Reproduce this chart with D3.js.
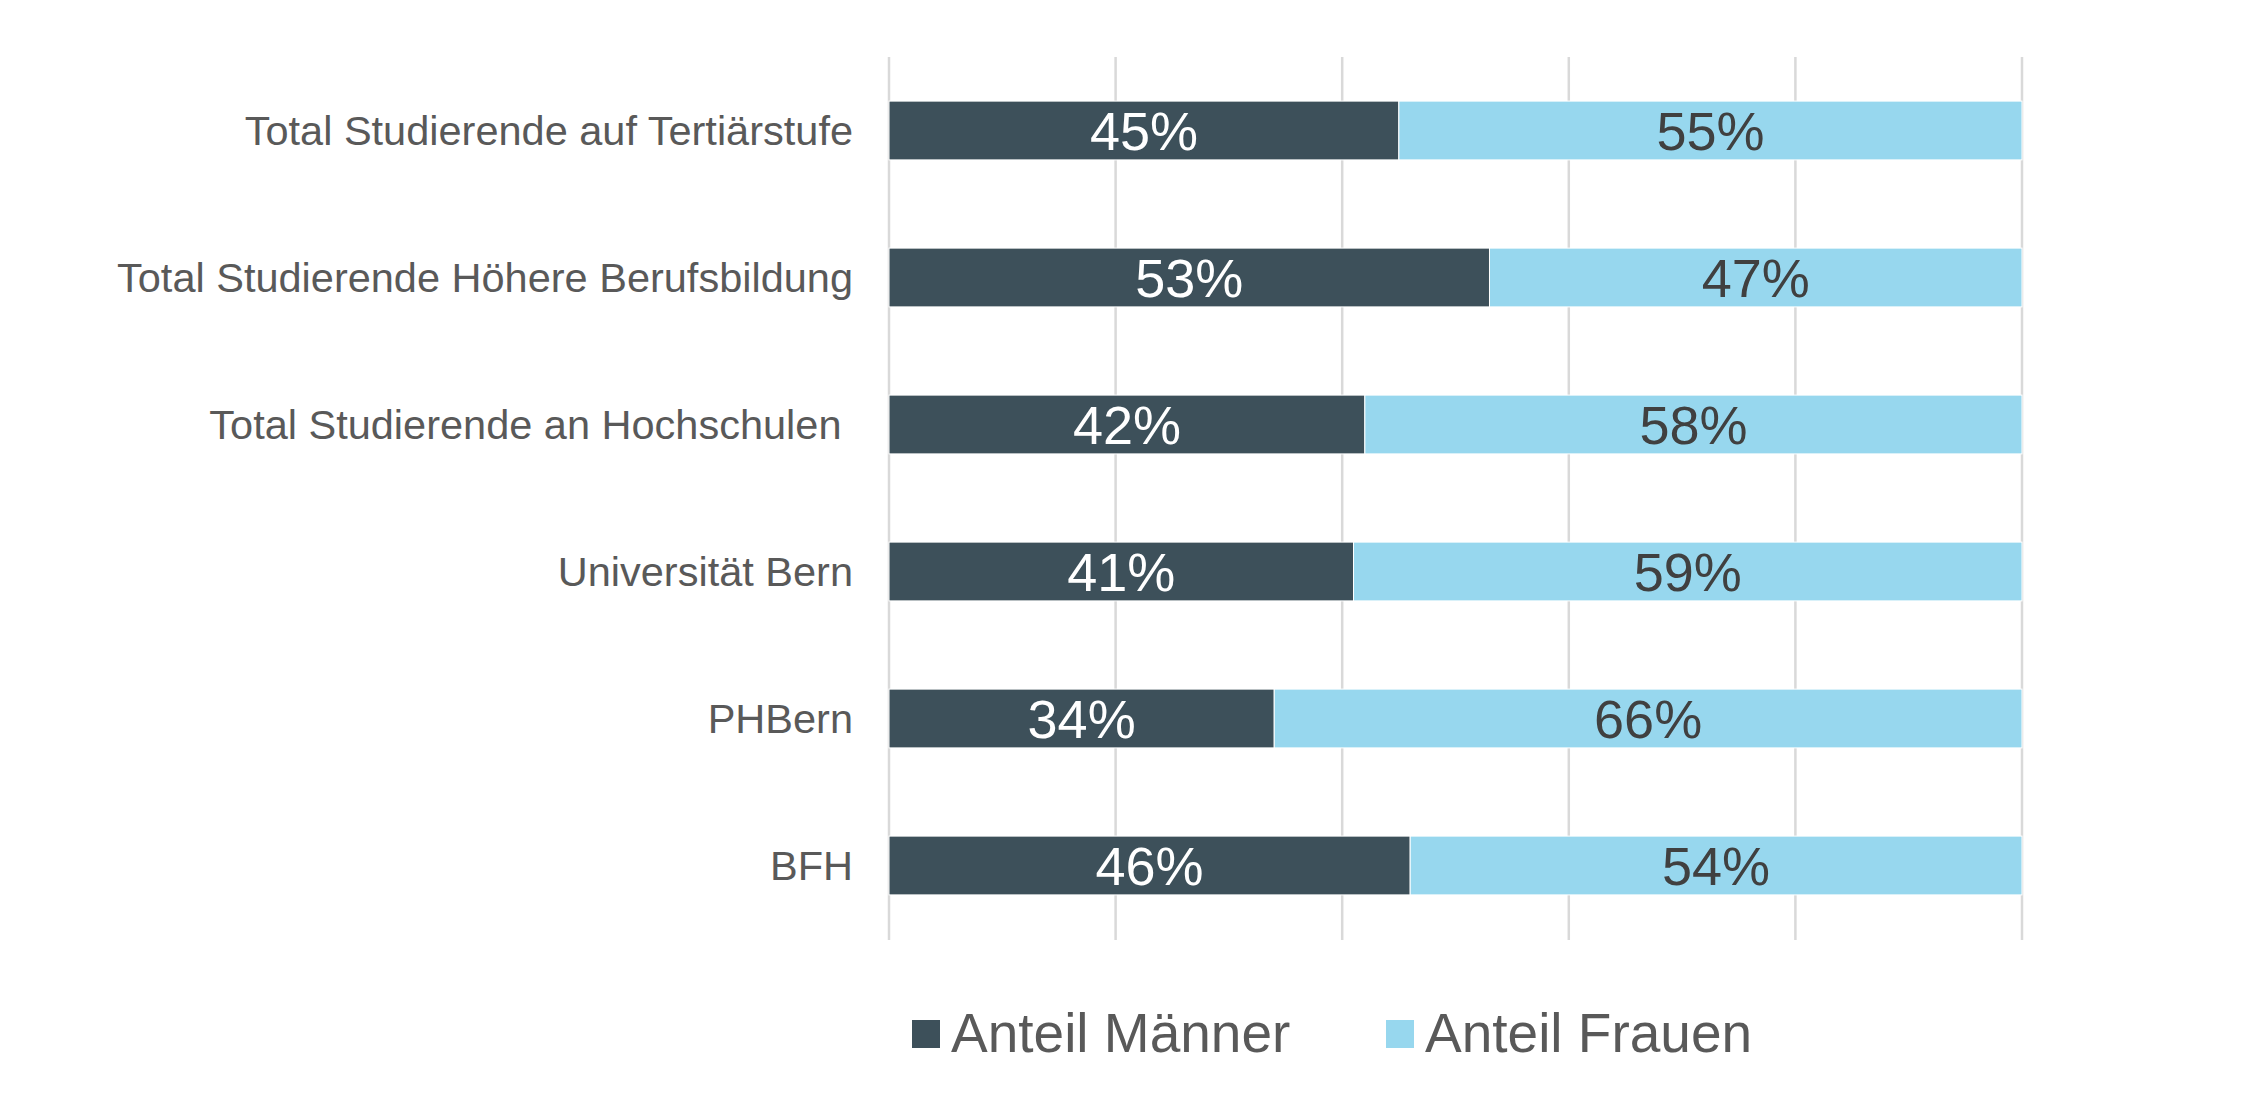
<!DOCTYPE html>
<html>
<head>
<meta charset="utf-8">
<style>
  body { margin: 0; background: #fff; }
  text { font-family: "Liberation Sans", Arial, sans-serif; }
</style>
</head>
<body>
<svg width="2251" height="1116"></svg>
<script src="https://d3js.org/d3.v7.min.js"></script>
<script>
// data
var categories = [
  "Total Studierende auf Tertiärstufe",
  "Total Studierende Höhere Berufsbildung",
  "Total Studierende an Hochschulen ",
  "Universität Bern",
  "PHBern",
  "BFH"
];
var maenner = [45, 53, 42, 41, 34, 46];
var frauen  = [55, 47, 58, 59, 66, 54];
var seriesNames = ["Anteil Männer", "Anteil Frauen"];
var xTicks = [0, 20, 40, 60, 80, 100];

var colors = ["#3d505a", "#97d7ee"];
var labelColors = ["#ffffff", "#404040"];

var svg = d3.select("svg"),
    plotLeft = 889, plotRight = 2022, plotTop = 57, plotBottom = 939;

var x = d3.scaleLinear().domain([0, 100]).range([plotLeft, plotRight]);
var y = d3.scaleBand().domain(categories).range([plotTop, plotBottom])
    .paddingInner(0.6).paddingOuter(0.3);

// gridlines
svg.append("g")
  .selectAll("line")
  .data(xTicks)
  .join("line")
    .attr("x1", function(d) { return x(d); })
    .attr("x2", function(d) { return x(d); })
    .attr("y1", plotTop)
    .attr("y2", plotBottom + 1)
    .attr("stroke", "#d9d9d9")
    .attr("stroke-width", 2.5);

var rows = categories.map(function(c, i) {
  return { cat: c, vals: [maenner[i], frauen[i]] };
});

var segs = [];
rows.forEach(function(r) {
  var x0 = 0;
  r.vals.forEach(function(v, k) {
    segs.push({ cat: r.cat, k: k, v: v, x0: x0, x1: x0 + v });
    x0 += v;
  });
});

svg.append("g")
  .selectAll("rect")
  .data(segs)
  .join("rect")
    .attr("x", function(d) { return x(d.x0); })
    .attr("y", function(d) { return y(d.cat); })
    .attr("width", function(d) { return x(d.x1) - x(d.x0); })
    .attr("height", y.bandwidth())
    .attr("fill", function(d) { return colors[d.k]; })
    .attr("stroke", "#ffffff")
    .attr("stroke-width", 1);

// value labels
svg.append("g")
  .selectAll("text")
  .data(segs)
  .join("text")
    .attr("x", function(d) { return (x(d.x0) + x(d.x1)) / 2; })
    .attr("y", function(d) { return y(d.cat) + y.bandwidth() / 2; })
    .attr("dy", "0.36em")
    .attr("text-anchor", "middle")
    .style("font-size", "54px")
    .attr("fill", function(d) { return labelColors[d.k]; })
    .text(function(d) { return d.v + "%"; });

// category labels
svg.append("g")
  .selectAll("text")
  .data(categories)
  .join("text")
    .attr("x", plotLeft - 36)
    .attr("y", function(d) { return y(d) + y.bandwidth() / 2; })
    .attr("dy", "0.35em")
    .attr("text-anchor", "end")
    .style("font-size", "41.5px")
    .style("white-space", "pre")
    .attr("fill", "#595959")
    .text(function(d) { return d; });

// legend
var legendX = [912, 1386];
var leg = svg.append("g")
  .selectAll("g")
  .data(seriesNames)
  .join("g")
    .attr("transform", function(d, i) { return "translate(" + legendX[i] + ",1020)"; });

leg.append("rect")
  .attr("width", 28)
  .attr("height", 28)
  .attr("fill", function(d, i) { return colors[i]; });

leg.append("text")
  .attr("x", 39)
  .attr("y", 32)
  .style("font-size", "55px")
  .attr("fill", "#595959")
  .text(function(d) { return d; });
</script>
</body>
</html>
